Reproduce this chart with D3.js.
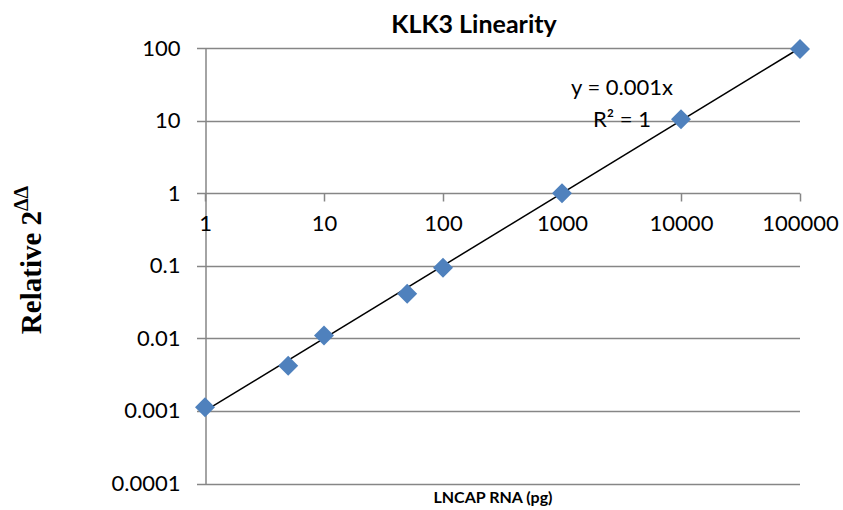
<!DOCTYPE html>
<html>
<head>
<meta charset="utf-8">
<script src="https://cdn.jsdelivr.net/npm/d3@7"></script>
<style>
  body { margin: 0; background: #fff; }
  svg { display: block; }
</style>
</head>
<body>
<svg id="chart" width="843" height="510"></svg>
<script>
// data
var rnaPg = [1, 5, 10, 50, 100, 1000, 10000, 100000]
var relative = [0.00112, 0.0042, 0.0109, 0.041, 0.094, 1.0, 10.4, 97]
var xTicks = [1, 10, 100, 1000, 10000, 100000]
var xTickLabels = ['1', '10', '100', '1000', '10000', '100000']
var yTicks = [100, 10, 1, 0.1, 0.01, 0.001, 0.0001]
var yTickLabels = ['100', '10', '1', '0.1', '0.01', '0.001', '0.0001']
var trendSlope = 0.001

var svg = d3.select('#chart')
var font = 'Lato, "Open Sans", sans-serif'

var x = d3.scaleLog().domain([1, 100000]).range([205, 800])
var y = d3.scaleLog().domain([0.0001, 100]).range([483.5, 48])

// horizontal gridlines
svg.append('g')
  .selectAll('line')
  .data(yTicks)
  .enter()
  .append('line')
  .attr('x1', 197)
  .attr('x2', 800)
  .attr('y1', function(d){ return Math.round(y(d)) + 0.5 })
  .attr('y2', function(d){ return Math.round(y(d)) + 0.5 })
  .attr('stroke', '#868686')
  .attr('stroke-width', 1.5)

// y axis (vertical line + labels)
var yAxis = d3.axisLeft(y)
  .tickValues(yTicks)
  .tickFormat(function(d, i){ return yTickLabels[i] })
  .tickSize(0)
  .tickPadding(25)

var gy = svg.append('g')
  .attr('transform', 'translate(205.5,0)')
  .call(yAxis)
gy.select('.domain').attr('stroke', '#868686').attr('stroke-width', 1.5)
gy.selectAll('text')
  .attr('font-family', font)
  .attr('font-size', 22)
  .attr('fill', '#000')

// x axis crossing at y = 1
var xAxis = d3.axisBottom(x)
  .tickValues(xTicks)
  .tickFormat(function(d, i){ return xTickLabels[i] })
  .tickSize(8)
  .tickPadding(14)

var gx = svg.append('g')
  .attr('transform', 'translate(0,' + (Math.round(y(1)) + 0.5) + ')')
  .call(xAxis)
gx.select('.domain').remove()
gx.selectAll('line').attr('stroke', '#868686').attr('stroke-width', 1.5)
gx.selectAll('text')
  .attr('font-family', font)
  .attr('font-size', 22)
  .attr('fill', '#000')

// trendline y = 0.001x
svg.append('line')
  .attr('x1', x(1))
  .attr('y1', y(trendSlope * 1))
  .attr('x2', x(100000))
  .attr('y2', y(trendSlope * 100000))
  .attr('stroke', '#000')
  .attr('stroke-width', 1.5)

// diamond markers
svg.append('g')
  .selectAll('path')
  .data(rnaPg)
  .enter()
  .append('path')
  .attr('d', 'M0,-10L10,0L0,10L-10,0Z')
  .attr('transform', function(d, i){
    return 'translate(' + x(d) + ',' + y(relative[i]) + ')'
  })
  .attr('fill', '#4f81bd')

// equation labels
svg.append('text')
  .attr('x', 622).attr('y', 95)
  .attr('text-anchor', 'middle')
  .attr('font-family', font)
  .attr('font-size', 22)
  .text('y = 0.001x')

svg.append('text')
  .attr('x', 622).attr('y', 127)
  .attr('text-anchor', 'middle')
  .attr('font-family', font)
  .attr('font-size', 22)
  .text('R² = 1')

// title
svg.append('text')
  .attr('x', 474).attr('y', 33)
  .attr('text-anchor', 'middle')
  .attr('font-family', font)
  .attr('font-weight', 'bold')
  .attr('font-size', 25)
  .text('KLK3 Linearity')

// x axis title
svg.append('text')
  .attr('x', 493).attr('y', 503)
  .attr('text-anchor', 'middle')
  .attr('font-family', font)
  .attr('font-weight', 'bold')
  .attr('font-size', 16)
  .text('LNCAP RNA (pg)')

// y axis title (serif, with superscript)
var yTitle = svg.append('text')
  .attr('transform', 'translate(41,260) rotate(-90)')
  .attr('text-anchor', 'middle')
  .attr('font-family', '"Liberation Serif", "Times New Roman", serif')
  .attr('font-weight', 'bold')
  .attr('font-size', 29)
yTitle.append('tspan').text('Relative 2')
yTitle.append('tspan')
  .attr('font-size', 20)
  .attr('dy', -13)
  .text('ΔΔ')
</script>
</body>
</html>
